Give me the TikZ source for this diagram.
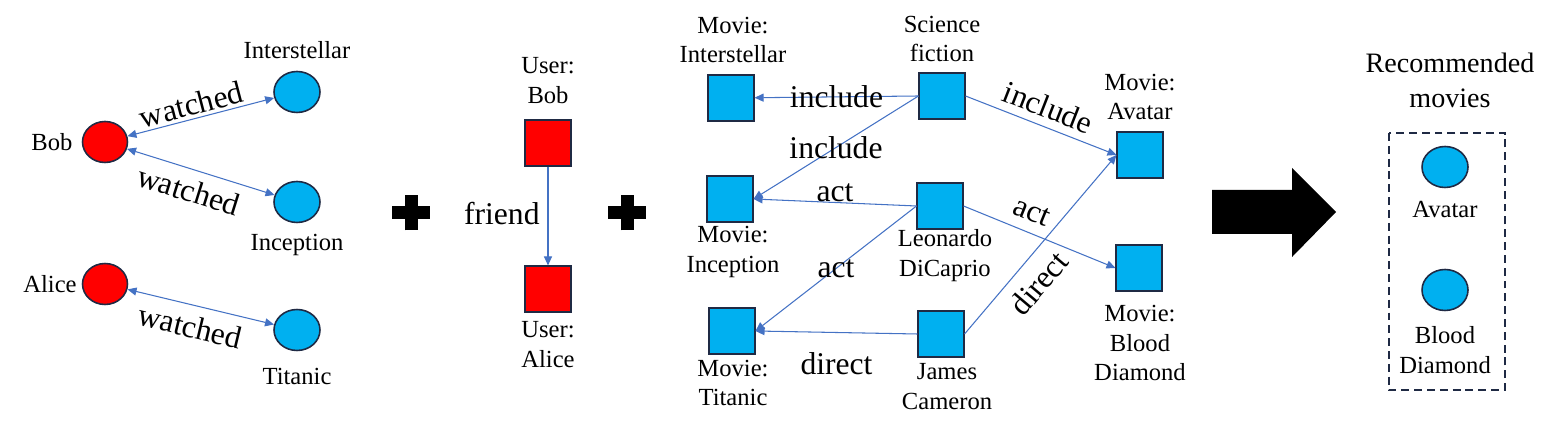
\documentclass[tikz,border=0pt]{standalone}
\usepackage{fontspec}
\setmainfont{Liberation Serif}
\usetikzlibrary{arrows.meta,shapes.geometric}

\definecolor{userred}{HTML}{FF0000}
\definecolor{itemblue}{HTML}{00B0F0}
\definecolor{rimnavy}{HTML}{1F2A44}
\definecolor{linkblue}{HTML}{4472C4}

\tikzset{
  >={Triangle[length=1.8mm, width=1.6mm]},
  usernode/.style = {ellipse, draw=rimnavy, line width=0.9pt, fill=userred,
                     minimum width=0.9cm, minimum height=0.82cm, inner sep=0pt},
  movienode/.style = {usernode, fill=itemblue, minimum width=0.92cm},
  usersq/.style = {rectangle, draw=rimnavy, line width=0.9pt, fill=userred,
                   minimum size=0.91cm, inner sep=0pt},
  entity/.style = {usersq, fill=itemblue},
  relarrow/.style = {draw=linkblue, line width=0.6pt, ->},
  lbl/.style = {font=\fontsize{14}{17}\selectfont, align=center, inner sep=0pt},
  edgelbl/.style = {font=\fontsize{18}{20}\selectfont, inner sep=0pt},
  plusbar/.style = {line width=7.4pt, black},
}

\begin{document}
\begin{tikzpicture}[x=0.02cm, y=-0.02cm]
\useasboundingbox (0,0) rectangle (1564,431);

% who watched what
\node[usernode] (bob) at (105,142) {};
\node[usernode] (alice) at (105,284) {};
\node[movienode] (inter) at (297,92) {};
\node[movienode] (incep) at (297,202) {};
\node[movienode] (titan) at (297,330) {};
\node[lbl] (bobl) at (52,142) {Bob};
\node[lbl] (alicel) at (50,284) {Alice};
\node[lbl] (interl) at (297,50) {Interstellar};
\node[lbl] (incepl) at (297,245) {Inception};
\node[lbl] (titanl) at (297,376) {Titanic};

\draw[relarrow, <->] (bob) -- node[edgelbl, sloped, above, pos=0.46, inner sep=1.7pt] (w1) {watched} (inter);
\draw[relarrow, <->] (bob) -- node[edgelbl, sloped, below, pos=0.46, inner sep=5.5pt] (w2) {watched} (incep);
\draw[relarrow, <->] (alice) -- node[edgelbl, sloped, below, pos=0.46, inner sep=5.5pt] (w3) {watched} (titan);

% plus signs
\coordinate (plusA) at (411,213);
\coordinate (plusB) at (627,213);
\foreach \p in {plusA, plusB} {
  \draw[plusbar] ([xshift=-0.38cm]\p) -- ([xshift=0.38cm]\p);
  \draw[plusbar] ([yshift=-0.35cm]\p) -- ([yshift=0.35cm]\p);
}

% friendship
\node[usersq] (ubob) at (548,143) {};
\node[usersq] (ualice) at (548,289) {};
\node[lbl] (ubobl) at (548,81) {User:\\Bob};
\node[lbl] (ualicel) at (548,345) {User:\\Alice};
\draw[relarrow] (ubob) -- node[edgelbl, left, pos=0.47, inner sep=4.5pt] (fr) {friend} (ualice);

% knowledge graph
\node[entity] (kinter) at (731,98) {};
\node[entity] (kincep) at (730,199) {};
\node[entity] (ktitan) at (732,331) {};
\node[entity] (scifi) at (942,96) {};
\node[entity] (leo) at (940,206) {};
\node[entity] (james) at (941,334) {};
\node[entity] (avatar) at (1140,155) {};
\node[entity] (blood) at (1139,268) {};

\node[lbl] (kinterl) at (733,40) {Movie:\\Interstellar};
\node[lbl] (kincepl) at (733,252) {Movie:\\Inception};
\node[lbl] (ktitanl) at (733,383) {Movie:\\Titanic};
\node[lbl] (scifil) at (942,39) {Science\\fiction};
\node[lbl] (leol) at (945,256) {Leonardo\\DiCaprio};
\node[lbl] (jamesl) at (947,387) {James\\Cameron};
\node[lbl] (avatarl) at (1140,97) {Movie:\\Avatar};
\node[lbl] (bloodl) at (1140,343) {Movie:\\Blood\\Diamond};

\draw[relarrow] (scifi.west) -- node[edgelbl] (r1) {include} (kinter);
\draw[relarrow] (scifi.west) -- node[edgelbl] (r2) {include} (kincep.east);
\draw[relarrow] (scifi.east) -- node[edgelbl, sloped, above, inner sep=4.5pt] (r3) {include} (avatar.west);
\draw[relarrow] (leo.west) -- node[edgelbl, above] (r4) {act} (kincep.east);
\draw[relarrow] (leo.west) -- node[edgelbl] (r5) {act} (ktitan.east);
\draw[relarrow] (leo.east) -- node[edgelbl, sloped, above, pos=0.4, inner sep=6pt] (r6) {act} (blood.west);
\draw[relarrow] (james.west) -- node[edgelbl, below, inner sep=11pt] (r7) {direct} (ktitan.east);
\draw[relarrow] (james.east) -- node[edgelbl, sloped, below, pos=0.37, inner sep=7pt] (r8) {direct} (avatar.west);

% result
\fill[black] (1212,190) -- (1292,190) -- (1292,168) -- (1336,212)
  -- (1292,257) -- (1292,234) -- (1212,234) -- cycle;
\draw[rimnavy, line width=1.1pt, dash pattern=on 4.5pt off 2.8pt] (1389,133) rectangle (1505,390);
\node[lbl, font=\fontsize{16}{20}\selectfont] (recl) at (1450,80) {Recommended\\movies};
\node[movienode] (rava) at (1445,167) {};
\node[movienode] (rblood) at (1445,290) {};
\node[lbl] (raval) at (1445,210) {Avatar};
\node[lbl] (rbloodl) at (1445,350) {Blood\\Diamond};
\end{tikzpicture}
\end{document}
